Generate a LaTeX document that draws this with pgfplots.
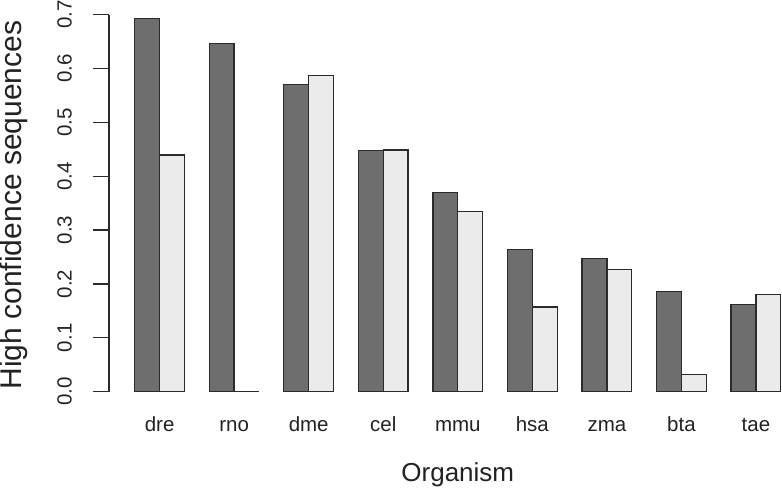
\documentclass[border=0pt]{standalone}
\usepackage{pgfplots}
\pgfplotsset{compat=1.18}
\usepackage{fontspec}
\setmainfont{Liberation Sans}
\definecolor{darkbar}{HTML}{6E6E6E}
\definecolor{lightbar}{HTML}{EBEBEB}
\definecolor{edge}{HTML}{2B2B2B}
\definecolor{txt}{HTML}{222222}
\begin{document}
\begin{tikzpicture}
\useasboundingbox (0,0) rectangle (782pt,488pt);
\begin{axis}[
  at={(108.9pt,96.3pt)}, anchor=south west,
  scale only axis, width=673.1pt, height=377pt,
  xmin=-0.04, xmax=27.047, ymin=0, ymax=0.7,
  enlargelimits=false, clip=false,
  axis y line=left, axis x line=bottom,
  x axis line style={draw=none},
  y axis line style={-, draw=edge, line width=1.3pt},
  xtick={2,5,8,11,14,17,20,23,26},
  xticklabels={dre,rno,dme,cel,mmu,hsa,zma,bta,tae},
  xtick style={draw=none},
  ytick={0,0.1,0.2,0.3,0.4,0.5,0.6,0.7},
  ytick style={draw=edge, line width=1.3pt},
  tick align=outside, major tick length=16pt,
  /pgf/number format/assume math mode=true,
  yticklabel={\pgfmathprintnumber[fixed,fixed zerofill,precision=1]{\tick}},
  ticklabel style={font=\fontsize{20.5}{20.5}\selectfont, text=txt, inner sep=0pt},
  yticklabel style={xshift=-21.2pt, rotate=90, anchor=base},
  xticklabel style={anchor=base, yshift=-24pt},
  xlabel={Organism},
  xlabel style={at={([yshift=-90pt]axis description cs:0.5183,0)}, anchor=base, font=\fontsize{26}{26}\selectfont, text=txt, inner sep=0pt},
  ylabel={High confidence sequences},
  ylabel style={at={([xshift=-87.1pt]axis description cs:0,0.495)}, anchor=base, font=\fontsize{30}{30}\selectfont, text=txt, inner sep=0pt},
]
\addplot[ybar, bar width=1, bar shift=0pt, fill=darkbar, draw=edge, line width=1.3pt]
  coordinates {(1.5,0.693) (4.5,0.646) (7.5,0.571) (10.5,0.4475) (13.5,0.3695) (16.5,0.2643) (19.5,0.2476) (22.5,0.186) (25.5,0.1615)};
\addplot[ybar, bar width=1, bar shift=0pt, fill=lightbar, draw=edge, line width=1.3pt]
  coordinates {(2.5,0.4395) (5.5,0) (8.5,0.587) (11.5,0.4488) (14.5,0.334) (17.5,0.157) (20.5,0.227) (23.5,0.0323) (26.5,0.1808)};
\end{axis}
\end{tikzpicture}
\end{document}
